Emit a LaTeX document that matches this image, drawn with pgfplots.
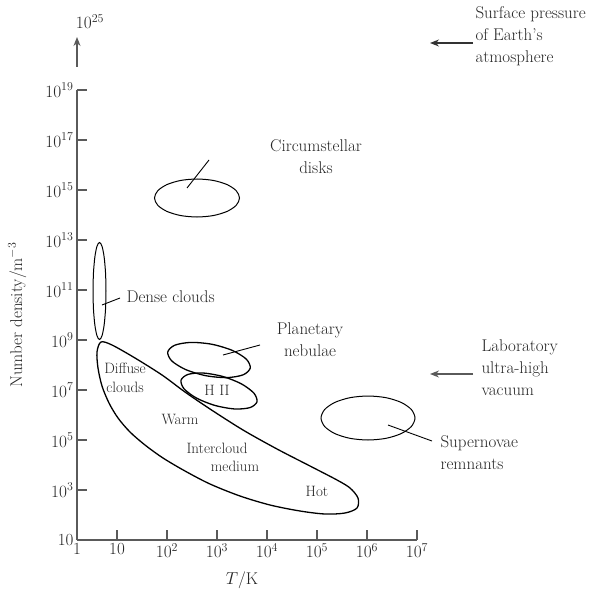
\documentclass[border=0pt]{standalone}
\usepackage{pgfplots}
\pgfplotsset{compat=1.18}
\usetikzlibrary{arrows.meta}
\definecolor{axgray}{HTML}{5A5A5A}
\begin{document}
\begin{tikzpicture}
\begin{axis}[
  x=50pt, y=25pt,
  xmin=0.2, xmax=7, ymin=1, ymax=19,
  axis lines=left,
  axis line style={-, axgray, line width=1.2pt},
  tick style={axgray, line width=1.1pt},
  tick align=inside,
  major tick length=10pt,
  clip=false,
  xtick={0.2,1,2,3,4,5,6,7},
  xticklabels={1,10,$10^2$,$10^3$,$10^4$,$10^5$,$10^6$,$10^7$},
  ytick={1,3,5,7,9,11,13,15,17,19},
  yticklabels={10,$10^3$,$10^5$,$10^7$,$10^9$,$10^{11}$,$10^{13}$,$10^{15}$,$10^{17}$,$10^{19}$},
  tick label style={font=\fontsize{17}{20}\selectfont, text=black!85},
  xlabel={$T$/K},
  ylabel={Number density/m$^{-3}$},
  every axis x label/.style={at={(axis description cs:0.485,-0.089)}, anchor=center,
    font=\fontsize{17}{20}\selectfont, text=black!85},
  every axis y label/.style={at={(axis description cs:-0.176,0.5)}, rotate=90, anchor=center,
    font=\fontsize{17}{20}\selectfont, text=black!85},
]
% invisible frame for page size
\path (axis cs:-1.34,-1.04) rectangle (axis cs:10.84,22.6);

% interstellar regions (diffuse clouds / intercloud medium)
\addplot[black, line width=1.3pt, smooth cycle] coordinates {
  (0.68,8.92) (0.90,8.80) (1.36,8.28) (1.90,7.60) (2.36,6.92) (2.86,6.24)
  (3.52,5.40) (4.20,4.64) (4.86,3.96) (5.40,3.40) (5.66,3.08) (5.82,2.68)
  (5.80,2.28) (5.56,2.08) (5.16,2.04) (4.66,2.16) (4.06,2.40) (3.46,2.76)
  (2.86,3.24) (2.36,3.76) (1.92,4.28) (1.56,4.80) (1.26,5.32) (1.02,5.88)
  (0.84,6.48) (0.70,7.16) (0.62,7.88) (0.60,8.52)
};
% planetary nebulae
\addplot[black, line width=1.3pt, smooth cycle] coordinates {
  (3.665,7.879) (3.524,7.608) (3.199,7.496) (2.779,7.572) (2.375,7.816) (2.095,8.164)
  (2.015,8.521) (2.156,8.792) (2.481,8.904) (2.901,8.828) (3.305,8.584) (3.585,8.236)
};
% H II
\addplot[black, line width=1.3pt, smooth cycle] coordinates {
  (3.799,6.524) (3.656,6.294) (3.348,6.242) (2.957,6.383) (2.589,6.678) (2.341,7.049)
  (2.281,7.396) (2.424,7.626) (2.732,7.678) (3.123,7.537) (3.491,7.242) (3.739,6.871)
};
% circumstellar disks
\addplot[black, line width=1pt, smooth cycle] coordinates {
  (3.450,14.680) (3.385,14.971) (3.201,15.217) (2.926,15.382)
  (2.600,15.440) (2.274,15.382) (1.999,15.217) (1.815,14.971)
  (1.750,14.680) (1.815,14.389) (1.999,14.143) (2.274,13.978)
  (2.600,13.920) (2.926,13.978) (3.201,14.143) (3.385,14.389)
};
% dense clouds
\addplot[black, line width=1pt, smooth cycle] coordinates {
  (0.780,10.960) (0.770,11.702) (0.742,12.332) (0.700,12.752)
  (0.650,12.900) (0.600,12.752) (0.558,12.332) (0.530,11.702)
  (0.520,10.960) (0.530,10.218) (0.558,9.588) (0.600,9.168)
  (0.650,9.020) (0.700,9.168) (0.742,9.588) (0.770,10.218)
};
% supernovae remnants
\addplot[black, line width=1pt, smooth cycle] coordinates {
  (6.960,5.880) (6.888,6.217) (6.685,6.502) (6.380,6.693)
  (6.020,6.760) (5.660,6.693) (5.355,6.502) (5.152,6.217)
  (5.080,5.880) (5.152,5.543) (5.355,5.258) (5.660,5.067)
  (6.020,5.000) (6.380,5.067) (6.685,5.258) (6.888,5.543)
};

% leader lines
\addplot[black, line width=0.9pt] coordinates {(2.40,15.08) (2.84,16.20)};
\addplot[black, line width=0.9pt] coordinates {(0.70,10.40) (1.06,10.68)};
\addplot[black, line width=0.9pt] coordinates {(3.12,8.40) (3.86,8.80)};
\addplot[black, line width=0.9pt] coordinates {(6.42,5.60) (7.30,4.96)};

% arrows
\addplot[axgray, line width=1.2pt, -{Stealth[length=9pt,width=7pt]}] coordinates {(0.2,19.92) (0.2,21.12)};
\addplot[black!80, line width=1.2pt, -{Stealth[length=9pt,width=7pt]}] coordinates {(8.12,20.88) (7.26,20.88)};
\addplot[axgray, line width=1.4pt, -{Stealth[length=9pt,width=7pt]}] coordinates {(8.12,7.64) (7.26,7.64)};

% annotations
\begin{scope}[every node/.style={font=\fontsize{17}{22}\selectfont, text=black!85}]
\node at (axis cs:0.46,21.72) {$10^{25}$};
\node[align=center] at (axis cs:4.98,16.32) {Circumstellar\\disks};
\node[anchor=west] at (axis cs:1.12,10.72) {Dense clouds};
\node[align=center] at (axis cs:4.86,9.0) {Planetary\\nebulae};
\node[anchor=west, align=left] at (axis cs:8.22,7.88) {Laboratory\\ultra-high\\vacuum};
\node[anchor=west, align=left] at (axis cs:8.10,21.16) {Surface pressure\\of Earth's\\atmosphere};
\node[anchor=west, align=left] at (axis cs:7.40,4.48) {Supernovae\\remnants};
\end{scope}
\begin{scope}[every node/.style={font=\fontsize{15}{19}\selectfont, text=black!85}]
\node[align=center] at (axis cs:1.16,7.48) {Diffuse\\clouds};
\node at (axis cs:3.0,7.0) {H II};
\node at (axis cs:2.26,5.84) {Warm};
\node at (axis cs:3.0,4.68) {Intercloud};
\node at (axis cs:3.36,3.96) {medium};
\node at (axis cs:5.0,2.96) {Hot};
\end{scope}
\end{axis}
\end{tikzpicture}
\end{document}
